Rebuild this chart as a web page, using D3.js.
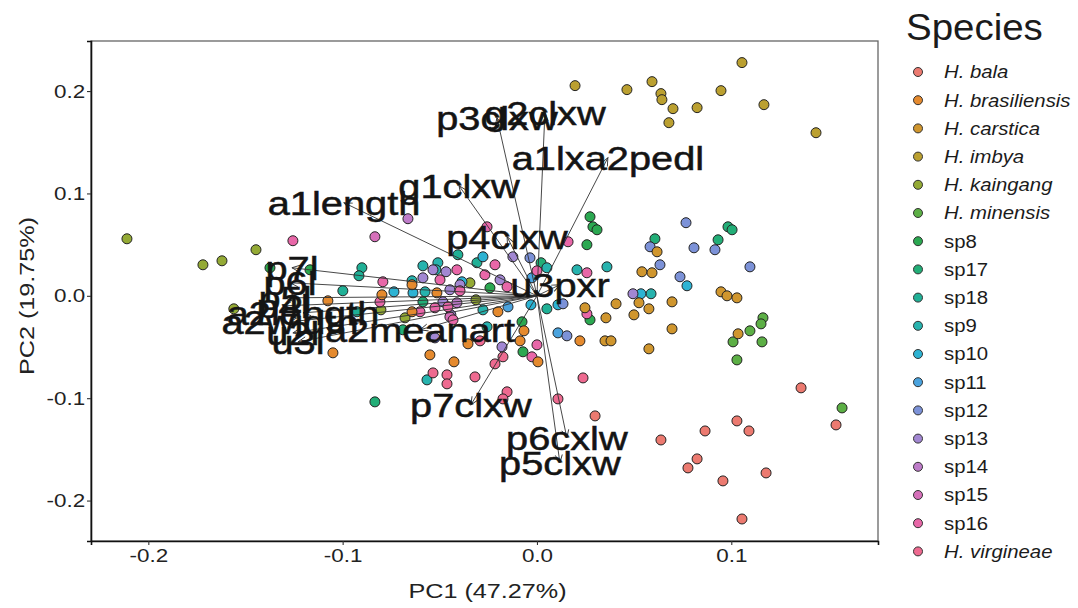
<!DOCTYPE html>
<html>
<head>
<meta charset="utf-8">
<script src="https://cdn.jsdelivr.net/npm/d3@7"></script>
<style>
  body { margin: 0; background: #fff; }
  svg { display: block; font-family: "Liberation Sans", Arial, sans-serif; }
</style>
</head>
<body>
<svg id="chart" width="1078" height="608"></svg>
<script>
// species, in legend order
const speciesNames = ["H. bala", "H. brasiliensis", "H. carstica", "H. imbya", "H. kaingang",
  "H. minensis", "sp8", "sp17", "sp18", "sp9", "sp10", "sp11", "sp12", "sp13", "sp14",
  "sp15", "sp16", "H. virgineae"];
const speciesColors = ["#EC7A70", "#E58A2E", "#D0962E", "#BBA030", "#94AA35", "#5CAF45",
  "#2BA851", "#22AE77", "#20B096", "#27B3AE", "#2DB3D3", "#4AA3DE", "#7C92D8", "#A287D2",
  "#BE7CC9", "#D670BA", "#E867A8", "#EE6A90"];

// individuals (species index, PC1, PC2)
const pointGroup = [
  3,3,3,3,3,3,3,3,3,3,3,3,
  4,4,4,4,4,4,4,4,4,
  0,0,0,0,0,0,0,0,0,0,0,0,
  5,5,5,5,5,5,5,
  6,6,6,6,6,6,6,6,6,6,
  7,7,7,7,7,7,7,7,
  8,8,8,8,8,8,8,
  9,9,9,9,9,9,9,9,9,9,9,9,
  10,10,10,10,10,10,10,10,
  11,11,11,
  12,12,12,12,12,12,12,12,12,12,
  13,13,13,13,13,13,13,13,13,13,13,13,
  14,14,
  15,15,
  16,16,16,16,16,16,16,16,16,16,16,16,16,16,16,16,16,16,16,16,
  17,17,17,17,17,17,17,17,17,17,17,
  1,1,1,1,1,1,1,1,1,1,1,1,1,1,
  2,2,2,2,2,2,2,2,2,2,2,2,2,2,2,2,2,2
];
const pointPC1 = [
  0.1055,0.0196,0.0463,0.0592,0.0638,0.0643,0.0700,0.0824,0.0947,0.1168,0.0679,0.1436,
  -0.2110,-0.1719,-0.1621,-0.1446,-0.1560,-0.0345,-0.0803,-0.0314,-0.0679,
  0.0299,0.0638,0.0865,0.1029,0.1091,0.1359,0.1539,0.0824,0.0777,0.0957,0.1179,0.1055,
  0.1163,0.1153,0.1096,0.1009,0.1158,0.1029,0.1570,
  0.0273,0.0288,0.0309,0.0257,-0.1374,-0.1168,0.0273,-0.0072,-0.0077,-0.0242,
  0.0607,0.0983,0.1004,0.0932,0.0021,-0.0834,-0.0690,-0.0587,
  -0.0901,-0.0916,-0.0407,-0.0309,-0.0999,-0.0926,0.0051,
  -0.0587,-0.0510,-0.0520,-0.0643,-0.0576,0.0051,0.0206,0.0360,0.0587,-0.0566,-0.0278,-0.0257,
  0.0772,-0.0278,-0.0031,0.0108,-0.0736,-0.0638,-0.0386,0.0535,
  -0.0026,-0.0149,0.0108,
  0.0767,0.0808,0.0916,0.1096,0.0582,0.0633,0.0736,0.0154,0.0134,-0.0036,
  0.0494,-0.0124,-0.0468,-0.0535,-0.0587,-0.0180,-0.0396,-0.0190,-0.0448,-0.0484,-0.0443,-0.0525,
  -0.0664,-0.0412,
  -0.0834,-0.0448,
  -0.1256,-0.0257,0.0160,-0.0216,-0.0412,-0.0499,-0.0268,-0.0793,-0.0154,0.0000,
  0.0257,0.0257,-0.0396,-0.0525,-0.0602,-0.0432,-0.0808,-0.0458,0.0000,-0.0026,
  -0.0175,-0.0216,-0.0535,-0.0463,-0.0463,-0.0319,-0.0154,-0.0175,0.0108,0.0237,-0.0293,
  -0.0201,-0.0067,-0.0087,0.0005,-0.0355,-0.0551,-0.0427,-0.0515,-0.0643,-0.0643,-0.0798,-0.1076,-0.1050,0.0221,
  0.0247,0.0407,0.0525,0.0576,0.0695,0.0355,0.0499,0.0695,0.0350,0.0381,0.0576,0.0618,0.0540,0.0592,0.0947,0.0978,0.1029,0.1035
];
const pointPC2 = [
  0.2278,0.2053,0.2014,0.2092,0.1975,0.1916,0.1828,0.1838,0.2004,0.1867,0.1691,0.1593,
  0.0557,0.0303,0.0342,0.0450,-0.0127,0.0127,-0.0137,-0.0039,-0.0215,
  -0.1173,-0.1408,-0.1320,-0.1222,-0.1320,-0.0899,-0.1261,-0.1593,-0.1681,-0.1808,-0.1730,-0.2180,
  -0.0215,-0.0274,-0.0342,-0.0450,-0.0450,-0.0626,-0.1095,
  0.0772,0.0674,0.0645,0.0499,0.0274,0.0254,-0.0235,-0.0547,-0.0254,0.0078,
  0.0557,0.0674,0.0645,0.0547,0.0323,-0.1036,-0.0332,-0.0059,
  0.0274,0.0196,0.0401,0.0323,0.0049,-0.0156,-0.0127,
  0.0293,0.0323,0.0254,0.0147,0.0039,0.0274,0.0254,0.0283,0.0020,-0.0821,-0.0137,-0.0303,
  0.0098,0.0381,-0.0088,-0.0088,0.0039,0.0029,0.0137,0.0020,
  0.0176,-0.0108,-0.0362,
  0.0714,0.0469,0.0450,0.0283,0.0479,0.0303,0.0186,-0.0391,-0.0078,0.0371,
  0.0020,0.0381,0.0235,0.0254,0.0176,-0.0499,0.0108,0.0156,0.0059,-0.0059,-0.0186,-0.0411,
  0.0753,-0.0068,
  0.0577,-0.0205,
  0.0538,0.0674,0.0528,0.0303,0.0254,0.0156,0.0205,0.0137,0.0088,0.0244,
  0.0225,-0.0176,0.0049,-0.0117,-0.0156,-0.0235,-0.0059,-0.0108,-0.0479,-0.0596,
  -0.0596,-0.0665,-0.0753,-0.0772,-0.0860,-0.0792,-0.0938,-0.1007,-0.1007,-0.0802,-0.0440,
  -0.0156,-0.0342,-0.0440,-0.0645,-0.0469,-0.0577,-0.0645,0.0029,-0.0156,0.0108,0.0010,-0.0049,-0.0557,-0.0440,
  -0.0117,-0.0078,-0.0068,-0.0127,-0.0059,-0.0215,-0.0186,-0.0323,-0.0440,-0.0440,-0.0518,0.0430,0.0235,0.0225,0.0039,0.0000,-0.0020,-0.0371
];

// variable loadings (arrow tips)
const varNames = ["a1length", "g1clxw", "p3clxw", "g2clxw", "a1lxa2pedl", "p4clxw", "u3pxr",
  "p7clxw", "p6cxlw", "p5clxw", "a2meanart", "a2length", "p7l", "p6l", "p5l", "p4l",
  "a2width", "u2l", "u3l"];
const varPC1 = [-0.0993, -0.0401, -0.0206, 0.0041, 0.0365, -0.0154, 0.0118,
  -0.0340, 0.0154, 0.0118, -0.0602, -0.1204, -0.1261, -0.1271, -0.1297, -0.1307,
  -0.1271, -0.1256, -0.1230];
const varPC2 = [0.0909, 0.1075, 0.1740, 0.1789, 0.1349, 0.0577, 0.0108,
  -0.1065, -0.1388, -0.1632, -0.0332, -0.0166, 0.0274, 0.0127, -0.0020, -0.0098,
  -0.0254, -0.0362, -0.0450];

const xTicks = [-0.2, -0.1, 0.0, 0.1];
const yTicks = [-0.2, -0.1, 0.0, 0.1, 0.2];
const xTitle = "PC1 (47.27%)";
const yTitle = "PC2 (19.75%)";
const legendTitle = "Species";

// layout
const panel = {left: 91, right: 878, top: 41, bottom: 541};
const stretch = 1.18;   // the figure text is a bit wide

const svg = d3.select("#chart");

const x = d3.scaleLinear().domain([-0.2295, 0.1755]).range([panel.left, panel.right]);
const y = d3.scaleLinear().domain([-0.2395, 0.2489]).range([panel.bottom, panel.top]);

// panel border
svg.append("rect")
  .attr("x", panel.left).attr("y", panel.top)
  .attr("width", panel.right - panel.left).attr("height", panel.bottom - panel.top)
  .attr("fill", "none").attr("stroke", "#666").attr("stroke-width", 1.3);

// axes
const fmt = d => d.toFixed(1);
const xAxis = svg.append("g")
  .attr("transform", `translate(0,${panel.bottom})`)
  .call(d3.axisBottom(x).tickValues(xTicks).tickFormat(fmt).tickSize(4).tickPadding(4));
const yAxis = svg.append("g")
  .attr("transform", `translate(${panel.left},0)`)
  .call(d3.axisLeft(y).tickValues(yTicks).tickFormat(fmt).tickSize(4).tickPadding(1));

[xAxis, yAxis].forEach(g => {
  g.select(".domain").attr("stroke", "#111").attr("stroke-width", 1.6);
  g.selectAll(".tick line").attr("stroke", "#333").attr("stroke-width", 1.1);
  g.selectAll(".tick text").attr("fill", "#222").attr("font-size", 19)
    .attr("font-family", "Liberation Sans, Arial, sans-serif")
    .attr("transform", `scale(${stretch},1)`);
});

// axis titles
svg.append("text")
  .attr("transform", `translate(${(panel.left + panel.right) / 2 + 3},598) scale(1.2,1)`)
  .attr("text-anchor", "middle").attr("font-size", 21).attr("fill", "#222")
  .text(xTitle);
svg.append("text")
  .attr("transform", `translate(34,${(panel.top + panel.bottom) / 2 + 5}) rotate(-90) scale(1.2,1)`)
  .attr("text-anchor", "middle").attr("font-size", 21).attr("fill", "#222")
  .text(yTitle);

// points
const points = pointGroup.map((g, i) => ({g: g, pc1: pointPC1[i], pc2: pointPC2[i]}));
svg.append("g").selectAll("circle")
  .data(points)
  .join("circle")
  .attr("cx", d => x(d.pc1))
  .attr("cy", d => y(d.pc2))
  .attr("r", 5)
  .attr("fill", d => speciesColors[d.g])
  .attr("stroke", "#222")
  .attr("stroke-width", 1);

// arrows
svg.append("defs").append("marker")
  .attr("id", "head")
  .attr("markerUnits", "userSpaceOnUse")
  .attr("viewBox", "-10 -5 12 10")
  .attr("refX", 0).attr("refY", 0)
  .attr("markerWidth", 12).attr("markerHeight", 10)
  .attr("orient", "auto")
  .append("path")
  .attr("d", "M-8,-3.5L0,0L-8,3.5")
  .attr("fill", "none").attr("stroke", "#333").attr("stroke-width", 0.9);

const vars = varNames.map((n, i) => ({name: n, pc1: varPC1[i], pc2: varPC2[i]}));
svg.append("g").selectAll("line")
  .data(vars)
  .join("line")
  .attr("x1", x(0)).attr("y1", y(0))
  .attr("x2", d => x(d.pc1)).attr("y2", d => y(d.pc2))
  .attr("stroke", "#333").attr("stroke-width", 0.9)
  .attr("marker-end", "url(#head)");

svg.append("g").selectAll("text")
  .data(vars)
  .join("text")
  .attr("transform", d => `translate(${x(d.pc1)},${y(d.pc2)}) scale(1.17,1)`)
  .attr("text-anchor", "middle")
  .attr("dy", "0.35em")
  .attr("font-size", 34)
  .attr("fill", "#141414")
  .attr("stroke", "#141414")
  .attr("stroke-width", 0.5)
  .text(d => d.name);

// legend
const legend = svg.append("g");
legend.append("text")
  .attr("transform", "translate(906,40) scale(1.04,1)")
  .attr("font-size", 37).attr("fill", "#1b1b1b")
  .text(legendTitle);

const items = legend.selectAll("g.item")
  .data(speciesNames)
  .join("g")
  .attr("class", "item")
  .attr("transform", (d, i) => `translate(918,${72 + i * 28.2})`);
items.append("circle")
  .attr("r", 4.5)
  .attr("fill", (d, i) => speciesColors[i])
  .attr("stroke", "#333").attr("stroke-width", 1);
items.append("text")
  .attr("transform", `translate(26,0) scale(1.13,1)`)
  .attr("dy", "0.35em")
  .attr("font-size", 18)
  .attr("fill", "#1b1b1b")
  .attr("font-style", d => d.startsWith("H.") ? "italic" : "normal")
  .text(d => d);
</script>
</body>
</html>
